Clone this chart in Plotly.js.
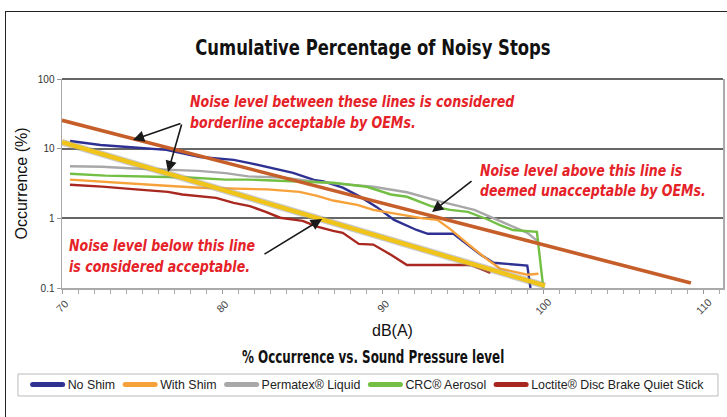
<!DOCTYPE html>
<html>
<head>
<meta charset="utf-8">
<script src="https://cdn.plot.ly/plotly-3.0.1.min.js"></script>
<style>
  html, body { margin: 0; padding: 0; background: #fff; overflow: hidden; }
  #wrap { position: relative; width: 727px; height: 417px; }
  #frame { position: absolute; left: 5px; top: 11px; width: 740px; height: 430px; border: 1.5px solid #222; box-sizing: border-box; pointer-events: none; z-index: 5; }
  #chart { position: absolute; left: 0; top: 0; width: 727px; height: 417px; }
</style>
</head>
<body>
<div id="wrap">
  <div id="chart"></div>
  <div id="frame"></div>
</div>
<script>
// ---- data (dB(A) vs cumulative % occurrence) ----
const noShimX = [70.5, 72.4, 74.5, 76.5, 78.6, 80.7, 81.7, 83.8, 84.4, 85.7, 86.3, 87.5, 88.6, 89.6, 90.7, 92.1, 92.8, 94.4, 96.1, 96.9, 98.6, 99.0, 99.2];
const noShimY = [12.9, 11.3, 10.4, 9.6, 7.6, 6.9, 6.2, 4.9, 4.5, 3.56, 3.4, 2.75, 2.03, 1.46, 0.95, 0.68, 0.6, 0.6, 0.3, 0.23, 0.21, 0.21, 0.1];

const withShimX = [70.5, 72.4, 74.5, 76.5, 78.6, 80.7, 82.8, 84.8, 85.9, 86.9, 88.4, 89.4, 90.5, 91.5, 92.5, 93.4, 94.2, 95.3, 96.3, 97.3, 98.5, 99.0, 99.7];
const withShimY = [3.6, 3.4, 3.15, 2.94, 2.75, 2.67, 2.6, 2.4, 2.1, 1.8, 1.56, 1.32, 1.2, 1.09, 1.0, 0.95, 0.7, 0.43, 0.28, 0.19, 0.165, 0.155, 0.16];

const permatexX = [70.5, 72.5, 74.5, 76.5, 78.5, 80.2, 81.6, 83.7, 85.8, 87.5, 89.4, 91.5, 93.6, 95.7, 97.1, 99.0, 99.7];
const permatexY = [5.6, 5.5, 5.2, 5.0, 4.8, 4.45, 4.0, 3.85, 3.35, 3.1, 2.84, 2.37, 1.74, 1.32, 0.95, 0.62, 0.46];

const crcX = [70.5, 72.7, 75.8, 77.9, 80.2, 81.6, 84.7, 86.9, 89.0, 90.5, 91.5, 93.0, 94.2, 95.3, 96.5, 97.3, 98.1, 99.6, 100.0];
const crcY = [4.37, 4.1, 3.96, 3.85, 3.6, 3.6, 3.38, 3.24, 2.84, 2.2, 2.04, 1.5, 1.32, 1.24, 0.97, 0.8, 0.68, 0.64, 0.1];

const loctiteX = [70.5, 72.5, 74.6, 76.6, 77.5, 79.6, 80.7, 81.7, 82.7, 83.6, 85.0, 85.9, 86.9, 87.5, 88.5, 89.4, 90.5, 91.5, 95.5, 96.7];
const loctiteY = [3.03, 2.85, 2.6, 2.4, 2.2, 1.97, 1.67, 1.5, 1.24, 1.02, 0.92, 0.76, 0.66, 0.62, 0.43, 0.42, 0.3, 0.214, 0.214, 0.165];

// OEM reference lines
const unacceptX = [70, 109.2];
const unacceptY = [25.5, 0.118];
const acceptX = [70, 100.1];
const acceptY = [12.4, 0.108];

const seriesNames = ['No Shim', 'With Shim', 'Permatex\u00AE Liquid', 'CRC\u00AE Aerosol', 'Loctite\u00AE Disc Brake Quiet Stick'];
const xTickVals = [70, 80, 90, 100, 110];
const yTickVals = [0.1, 1, 10, 100];
const yTickText = ['0.1', '1', '10', '100'];

// ---- styles ----
const colors = ['#2E3192', '#F7A13A', '#A8A8A8', '#72BF44', '#A8281F'];
const narrow = '"Liberation Sans Narrow", "DejaVu Sans Condensed", "Arial Narrow", sans-serif';
const plain = '"Liberation Sans", Arial, sans-serif';

const seriesX = [noShimX, withShimX, permatexX, crcX, loctiteX];
const seriesY = [noShimY, withShimY, permatexY, crcY, loctiteY];

const traces = seriesX.map((xs, i) => ({
  type: 'scatter', mode: 'lines', name: seriesNames[i],
  x: xs, y: seriesY[i],
  line: { color: colors[i], width: 2.4 },
  hoverinfo: 'skip'
}));

traces.push({
  type: 'scatter', mode: 'lines', x: unacceptX, y: unacceptY, showlegend: false,
  line: { color: '#C65E2A', width: 3.6 }, hoverinfo: 'skip'
});
traces.push({
  type: 'scatter', mode: 'lines', x: acceptX, y: acceptY, showlegend: false,
  line: { color: 'rgba(150,150,150,0.5)', width: 6.8 }, hoverinfo: 'skip'
});
traces.push({
  type: 'scatter', mode: 'lines', x: acceptX, y: acceptY, showlegend: false,
  line: { color: '#F0C419', width: 4.4 }, hoverinfo: 'skip'
});

const redFont = { family: narrow, size: 16, color: '#E52228' };
const redFontSmall = { family: narrow, size: 15, color: '#E52228' };
const arrowBase = { xref: 'paper', yref: 'paper', text: '', showarrow: true, arrowhead: 2, arrowsize: 1.4, arrowwidth: 1.6, arrowcolor: '#1a1a1a', standoff: 0, axref: 'pixel', ayref: 'pixel' };

const annotations = [
  { xref: 'paper', yref: 'paper', x: 0.19, y: 0.842, xanchor: 'left', yanchor: 'middle', align: 'left', showarrow: false,
    text: '<b><i>Noise level between these lines is considered<br>borderline acceptable by OEMs.</i></b>', font: redFont },
  { xref: 'paper', yref: 'paper', x: 0.629, y: 0.512, xanchor: 'left', yanchor: 'middle', align: 'left', showarrow: false,
    text: '<b><i>Noise level above this line is<br>deemed unacceptable by OEMs.</i></b>', font: redFontSmall },
  { xref: 'paper', yref: 'paper', x: 0.007, y: 0.153, xanchor: 'left', yanchor: 'middle', align: 'left', showarrow: false,
    text: '<b><i>Noise level below this line<br>is considered acceptable.</i></b>', font: redFont },
  Object.assign({}, arrowBase, { x: 0.1074, y: 0.708, ax: 49, ay: -17 }),
  Object.assign({}, arrowBase, { x: 0.1604, y: 0.555, ax: 14, ay: -49 }),
  Object.assign({}, arrowBase, { x: 0.5598, y: 0.3636, ax: 41, ay: -32 }),
  Object.assign({}, arrowBase, { x: 0.3933, y: 0.330, ax: -59, ay: 36 }),
  { xref: 'paper', yref: 'paper', x: 0.47, y: -0.33, xanchor: 'center', yanchor: 'middle', showarrow: false,
    text: '<b>% Occurrence vs. Sound Pressure level</b>', font: { family: narrow, size: 17, color: '#111' } }
];
xTickVals.forEach(v => annotations.push({
  xref: 'x', yref: 'paper', x: v, y: -0.085, xanchor: 'center', yanchor: 'middle', showarrow: false,
  text: String(v), textangle: -45, font: { family: plain, size: 10.5, color: '#444' }
}));

const layout = {
  width: 727, height: 417,
  margin: { l: 62, r: 4, t: 79, b: 129, pad: 0 },
  paper_bgcolor: '#ffffff', plot_bgcolor: '#ffffff',
  title: { text: '<b>Cumulative Percentage of Noisy Stops</b>', x: 0.513, xanchor: 'center', y: 0.887, yanchor: 'middle',
           font: { family: narrow, size: 22, color: '#111' } },
  xaxis: {
    type: 'linear', range: [70, 111.2], showticklabels: false,
    tick0: 70, dtick: 10, ticks: 'outside', ticklen: 4, tickcolor: '#999',
    minor: { dtick: 1, ticks: 'outside', ticklen: 4, tickcolor: '#aaa', showgrid: false },
    showline: true, linecolor: '#aaa', linewidth: 1.5, showgrid: false, zeroline: false,
    title: { text: 'dB(A)', font: { family: plain, size: 16, color: '#111' }, standoff: 32 }
  },
  yaxis: {
    type: 'log', range: [-1, 2], tickvals: yTickVals, ticktext: yTickText,
    ticks: 'outside', ticklen: 4, tickcolor: '#999',
    tickfont: { family: plain, size: 10, color: '#333' },
    showline: true, linecolor: '#aaa', linewidth: 1.5, mirror: true,
    showgrid: true, gridcolor: '#666', gridwidth: 2, zeroline: false,
    title: { text: 'Occurrence (%)', font: { family: plain, size: 16, color: '#111' }, standoff: 6 }
  },
  showlegend: true,
  legend: {
    orientation: 'h', x: -0.052, xanchor: 'left', y: -0.464, yanchor: 'middle',
    font: { family: plain, size: 12.4, color: '#222' }, bgcolor: 'rgba(0,0,0,0)', borderwidth: 0
  },
  shapes: [
    { type: 'line', xref: 'paper', yref: 'paper', x0: 0, x1: 1, y0: 1, y1: 1, line: { color: '#666', width: 2 } },
    { type: 'rect', xref: 'paper', yref: 'paper', x0: -0.0666, x1: 0.9924, y0: -0.5167, y1: -0.4115, line: { color: '#bbb', width: 1 }, fillcolor: 'rgba(0,0,0,0)' }
  ],
  annotations: annotations
};

// condense text lines horizontally (stand-in for a narrow bold typeface); returns width saved
function condense(textEl, ratio) {
  if (!textEl) return 0;
  const lines = textEl.querySelectorAll('tspan.line');
  const targets = lines.length ? Array.from(lines) : [textEl];
  let maxW = 0;
  targets.forEach(t => {
    try {
      const w = t.getComputedTextLength();
      if (w > 0) {
        maxW = Math.max(maxW, w);
        t.setAttribute('textLength', (w * ratio).toFixed(1));
        t.setAttribute('lengthAdjust', 'spacingAndGlyphs');
      }
    } catch (e) {}
  });
  return maxW * (1 - ratio);
}

Plotly.newPlot('chart', traces, layout, { staticPlot: true, displayModeBar: false }).then(gd => {
  condense(gd.querySelector('.gtitle'), 0.83);
  gd.querySelectorAll('.annotation').forEach(g => {
    const idx = +g.getAttribute('data-index');
    const txt = g.querySelector('.annotation-text');
    let saved = 0;
    if (idx === 0 || idx === 2) saved = condense(txt, 0.875);
    if (idx === 1) saved = condense(txt, 0.93);
    if (idx === 7) saved = condense(txt, 0.78);
    if (saved > 0) {
      const bg = g.querySelector('rect.bg');
      if (bg) {
        const w = parseFloat(bg.getAttribute('width')) || 0;
        if (idx === 7) {
          const x = parseFloat(bg.getAttribute('x')) || 0;
          bg.setAttribute('x', (x + saved / 2).toFixed(1));
        }
        bg.setAttribute('width', Math.max(0, w - saved).toFixed(1));
      }
    }
  });
  gd.querySelectorAll('.legend .legendlines path').forEach(p => {
    p.style.strokeWidth = '5px';
    p.style.strokeLinecap = 'round';
  });
});
</script>
</body>
</html>
